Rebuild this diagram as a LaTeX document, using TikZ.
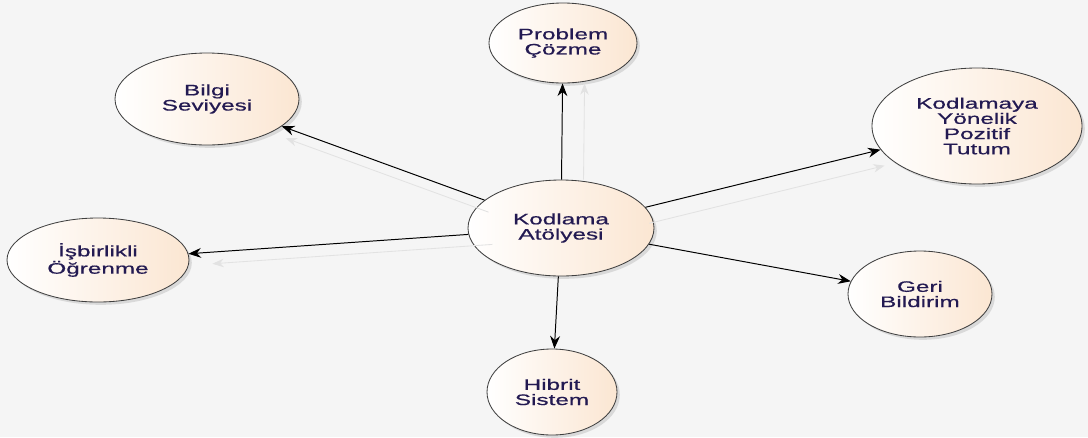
\documentclass[tikz,border=0pt]{standalone}
\usepackage{fontspec}
\setmainfont{Liberation Sans}
\newfontfamily\widefont[FakeStretch=1.6,FakeBold=0.6]{Liberation Sans}
\usetikzlibrary{shapes.geometric,arrows.meta,shadows}
\definecolor{bgc}{HTML}{F5F5F5}
\definecolor{txt}{HTML}{231A52}
\definecolor{peach}{HTML}{FBE6D2}
\definecolor{ghostc}{HTML}{E2E2E2}
\tikzset{
  bub/.style={ellipse, draw=black!75, line width=0.6pt, left color=white, right color=peach,
    inner sep=0pt, align=center, text=txt, font=\widefont\fontsize{10.8}{10.8}\selectfont,
    drop shadow={shadow xshift=2pt, shadow yshift=-2pt, fill=black!25, opacity=0.5}},
  link/.style={-{Stealth[length=9pt,width=7pt]}, line width=0.7pt, black},
  ghost/.style={-{Stealth[length=8pt,width=6pt]}, line width=0.6pt, ghostc},
}
\begin{document}
\begin{tikzpicture}[x=0.025cm,y=-0.025cm]
\fill[bgc] (0,0) rectangle (1088,437);
\useasboundingbox (0,0) rectangle (1088,437);
% nodes
\node[bub, minimum width=186*0.025cm, minimum height=96*0.025cm] (c) at (561,228) {Kodlama\\Atölyesi};
\node[bub, minimum width=148*0.025cm, minimum height=80*0.025cm] (p) at (563,43) {Problem\\Çözme};
\node[bub, minimum width=184*0.025cm, minimum height=92*0.025cm] (b) at (207,99) {Bilgi\\Seviyesi};
\node[bub, minimum width=210*0.025cm, minimum height=116*0.025cm] (k) at (977,126) {Kodlamaya\\Yönelik\\Pozitif\\Tutum};
\node[bub, minimum width=182*0.025cm, minimum height=84*0.025cm] (i) at (98,260) {İşbirlikli\\Öğrenme};
\node[bub, minimum width=144*0.025cm, minimum height=86*0.025cm] (g) at (920,294) {Geri\\Bildirim};
\node[bub, minimum width=130*0.025cm, minimum height=86*0.025cm] (h) at (552,392) {Hibrit\\Sistem};
% ghost reflections
\begin{scope}[transform canvas={shift={(0.55cm,0cm)}}]
\draw[ghost] (c) -- (p);
\end{scope}
\begin{scope}[transform canvas={shift={(0.1cm,-0.3cm)}}]
\draw[ghost] (c) -- (b);
\end{scope}
\begin{scope}[transform canvas={shift={(0.1cm,-0.4cm)}}]
\draw[ghost] (c) -- (k);
\end{scope}
\begin{scope}[transform canvas={shift={(0.6cm,-0.25cm)}}]
\draw[ghost] (c) -- (i);
\end{scope}
% connectors
\draw[link] (c) -- (p);
\draw[link] (c) -- (b);
\draw[link] (c) -- (k);
\draw[link] (c) -- (i);
\draw[link] (c) -- (g);
\draw[link] (c) -- (h);
\end{tikzpicture}
\end{document}
